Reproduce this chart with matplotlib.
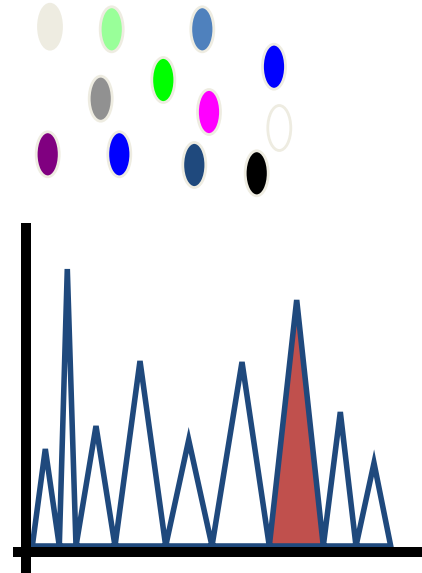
import matplotlib
matplotlib.use("Agg")
import matplotlib.pyplot as plt
from matplotlib.patches import Ellipse, Polygon, Rectangle
import numpy as np

# top: scattered ellipses (centre x, centre y, fill colour)
dot_x = [50, 111.7, 202.3, 274, 100.7, 163.3, 209, 279.3, 47.7, 119.3, 194.3, 256.7]
dot_y = [26.7, 29.3, 29.3, 66.7, 98.7, 80, 112, 128, 154.3, 154.3, 165, 173.3]
dot_colors = ["#EEECE1", "#99FF99", "#4F81BD", "#0000FF", "#919191", "#00FF00",
              "#FF00FF", "#FFFFFF", "#800080", "#0000FF", "#1F497D", "#000000"]

# bottom: zigzag series (x position, height above baseline)
line_x = [6.3, 19.3, 33.3, 41.3, 50, 70, 89, 114, 139.7, 162.7, 186, 216,
          243.3, 270.7, 297.3, 314.3, 330, 348, 364.7]
line_y = [0, 97, 0, 277, 0, 120, 0, 185, 0, 106, 0, 184,
          0, 246, 0, 134, 0, 83, 0]
hl_start, hl_end = 12, 14  # highlighted peak

W, H = 422, 573
fig = plt.figure(figsize=(W / 100, H / 100), dpi=100)

# ellipses
ax1 = fig.add_axes([0, 1 - 210 / H, 1, 210 / H])
ax1.set_xlim(0, W)
ax1.set_ylim(210, 0)
ax1.axis("off")
for cx, cy, c in zip(dot_x, dot_y, dot_colors):
    ax1.add_patch(Ellipse((cx, cy), 23, 45, facecolor=c, edgecolor="#EEECE1", lw=2))

# line chart
ax2 = fig.add_axes([13 / W, 0, 1 - 13 / W, 350 / H])
ax2.set_xlim(-13, 409 - 13)
ax2.set_ylim(-27, 323)
ax2.axis("off")

# keep the miter tips of the valleys from poking below the x axis
clip = Rectangle((-13, -6), 409, 400, transform=ax2.transData)

ax2.fill_between(line_x[hl_start:hl_end + 1], line_y[hl_start:hl_end + 1],
                 color="#C0504D", lw=0, zorder=1)
poly = Polygon(np.column_stack([line_x, line_y]), closed=True, fill=False,
               edgecolor="#1F497D", lw=4, joinstyle="miter", zorder=2)
ax2.add_patch(poly)
poly.set_clip_path(clip)

# thick black axes
ax2.plot([0, 0], [-27, 323], color="black", lw=7.2, solid_capstyle="butt",
         zorder=3, clip_on=False)
ax2.plot([-13, 396], [-6, -6], color="black", lw=7.2, solid_capstyle="butt",
         zorder=3, clip_on=False)

fig.savefig("out.png", dpi=100)
